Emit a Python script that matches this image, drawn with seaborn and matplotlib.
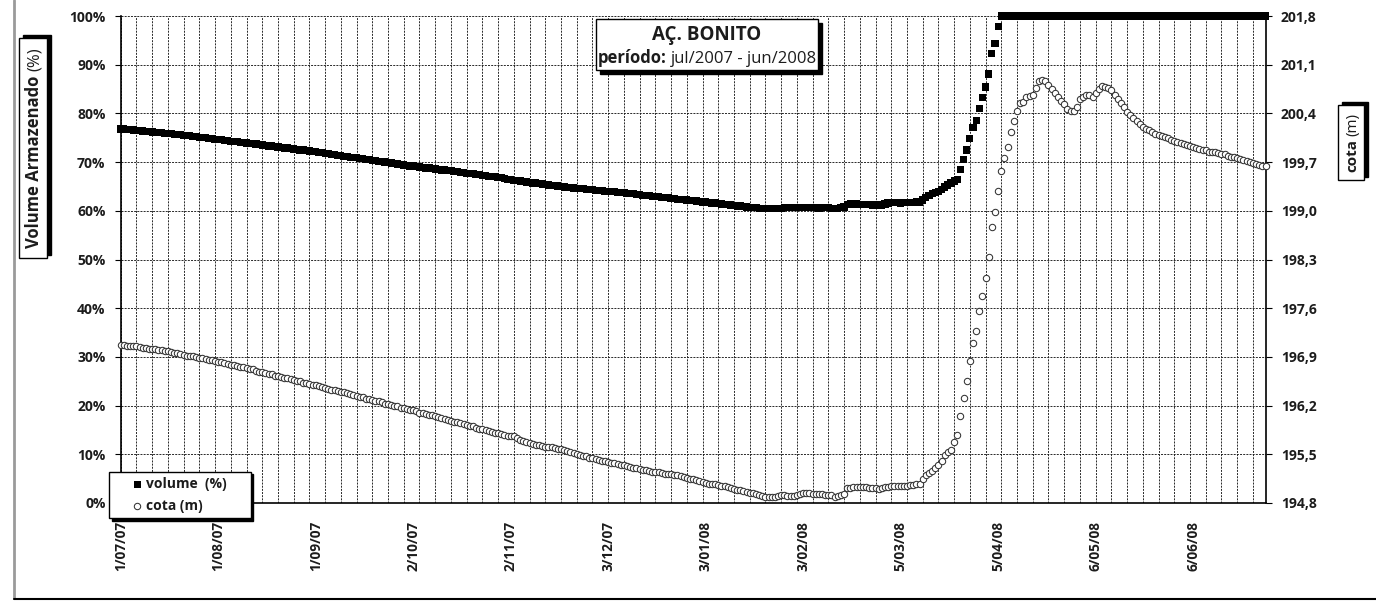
import numpy as np
import pandas as pd
import matplotlib.pyplot as plt
import seaborn as sns
from matplotlib.lines import Line2D
from matplotlib.patches import Rectangle
from matplotlib.transforms import IdentityTransform
from matplotlib.ticker import MultipleLocator, FuncFormatter, FixedLocator

# dados diários (dia 0 = 1/07/07)
inicio = '2007-07-01'
rotulos_x = ['1/07/07', '1/08/07', '1/09/07', '2/10/07', '2/11/07', '3/12/07',
             '3/01/08', '3/02/08', '5/03/08', '5/04/08', '6/05/08', '6/06/08']
ticks_volume = [0, 10, 20, 30, 40, 50, 60, 70, 80, 90, 100]
ticks_cota = [194.8, 195.5, 196.2, 196.9, 197.6, 198.3, 199.0, 199.7, 200.4, 201.1, 201.8]

# volume armazenado (%)
volume = [
    76.8, 76.8, 76.7, 76.7, 76.6, 76.5, 76.5, 76.4, 76.3, 76.3, 76.2, 76.1, 76.1, 76.0, 75.9, 75.8,
    75.8, 75.7, 75.6, 75.6, 75.5, 75.4, 75.4, 75.3, 75.2, 75.1, 75.1, 75.0, 74.9, 74.8, 74.7,
    74.6, 74.6, 74.5, 74.4, 74.3, 74.2, 74.2, 74.1, 74.0, 73.9, 73.8, 73.8, 73.7, 73.6, 73.5,
    73.4, 73.3, 73.3, 73.2, 73.1, 73.0, 72.9, 72.9, 72.8, 72.7, 72.6, 72.5, 72.5, 72.4, 72.3,
    72.2, 72.1, 72.0, 71.9, 71.8, 71.7, 71.6, 71.5, 71.4, 71.3, 71.2, 71.1, 71.0, 71.0, 70.9,
    70.8, 70.7, 70.6, 70.5, 70.4, 70.3, 70.2, 70.1, 70.0, 69.9, 69.8, 69.7, 69.6, 69.5, 69.4,
    69.3, 69.2, 69.2, 69.1, 69.0, 68.9, 68.8, 68.8, 68.7, 68.6, 68.5, 68.4, 68.4, 68.3, 68.2,
    68.1, 68.0, 67.9, 67.8, 67.7, 67.7, 67.6, 67.5, 67.4, 67.3, 67.2, 67.1, 67.0, 67.0, 66.9,
    66.8, 66.7, 66.5, 66.4, 66.3, 66.2, 66.1, 66.0, 65.9, 65.8,
    65.7, 65.7, 65.6, 65.5, 65.4, 65.3, 65.2, 65.2, 65.1, 65.0, 64.9, 64.8, 64.8, 64.7, 64.6,
    64.5, 64.5, 64.4, 64.3, 64.3, 64.2, 64.1, 64.1, 64.0, 64.0, 63.9, 63.9, 63.8, 63.8, 63.7,
    63.6, 63.5, 63.5, 63.4, 63.3, 63.2, 63.2, 63.1, 63.0, 62.9, 62.9, 62.8, 62.7, 62.7, 62.6,
    62.5, 62.4, 62.4, 62.3, 62.2, 62.1, 62.1, 62.0, 61.9, 61.8, 61.8, 61.7, 61.6, 61.6, 61.5,
    61.4, 61.3, 61.3, 61.2, 61.1, 61.0, 61.0, 60.9, 60.8, 60.7, 60.7, 60.6, 60.5, 60.5, 60.4,
    60.4, 60.4, 60.5, 60.5, 60.5, 60.6, 60.6, 60.6, 60.7, 60.7, 60.7,
    60.7, 60.6, 60.6, 60.6, 60.6, 60.5, 60.6, 60.7, 60.6, 60.5, 60.5, 60.5, 60.6, 60.8,
    61.3, 61.4, 61.4, 61.4, 61.3, 61.3, 61.3, 61.3, 61.2, 61.2, 61.2, 61.1, 61.4, 61.6,
    61.7, 61.7, 61.7, 61.6, 61.7, 61.7, 61.7, 61.7, 61.8, 61.8,
    62.2, 62.7, 63.2, 63.5, 63.7, 64.0, 64.4, 64.9, 65.3, 65.7, 66.1, 66.5, 68.5, 70.6, 72.5,
    74.9, 77.1, 78.6, 81.0, 83.2, 85.4, 88.1, 92.3, 94.4, 97.9,
] + [100.0] * 85  # sangrando a partir de 6/04/08

# cota (m)
cota = [
    197.07, 197.07, 197.06, 197.06, 197.05, 197.05, 197.04, 197.03, 197.03, 197.02, 197.02, 197.01,
    197.00, 197.00, 196.99, 196.98,
    196.97, 196.96, 196.95, 196.94, 196.93, 196.92, 196.92, 196.91, 196.90, 196.89, 196.88, 196.87,
    196.86, 196.85, 196.84,
    196.83, 196.82, 196.81, 196.80, 196.79, 196.78, 196.77, 196.76, 196.75, 196.74, 196.73, 196.72,
    196.70, 196.69, 196.68,
    196.67, 196.66, 196.65, 196.63, 196.62, 196.61, 196.60, 196.59, 196.58, 196.57, 196.56, 196.55,
    196.53, 196.52, 196.51,
    196.50, 196.49, 196.48, 196.47, 196.45, 196.44, 196.43, 196.42, 196.41, 196.40, 196.39, 196.38,
    196.36, 196.35, 196.34,
    196.33, 196.32, 196.30, 196.29, 196.28, 196.27, 196.26, 196.25, 196.23, 196.22, 196.21, 196.20,
    196.19, 196.17, 196.16,
    196.15, 196.14, 196.13, 196.12, 196.10, 196.09, 196.08, 196.07, 196.06, 196.05, 196.03, 196.02,
    196.01, 196.00, 195.98,
    195.97, 195.96, 195.95, 195.93, 195.92, 195.91, 195.90, 195.88, 195.87, 195.86, 195.85, 195.84,
    195.82, 195.81, 195.80,
    195.79, 195.78, 195.77, 195.77, 195.76, 195.74, 195.71, 195.69, 195.67, 195.66,
    195.65, 195.64, 195.63, 195.62, 195.61, 195.61, 195.60, 195.59, 195.58, 195.57,
    195.56, 195.55, 195.53, 195.52, 195.51, 195.49, 195.48, 195.47, 195.45, 195.44,
    195.43, 195.42, 195.41, 195.40, 195.39, 195.38, 195.37, 195.36, 195.35, 195.34, 195.33, 195.32,
    195.31,
    195.30, 195.29, 195.28, 195.27, 195.26,
    195.25, 195.25, 195.24, 195.23, 195.22, 195.22, 195.21, 195.20, 195.20, 195.19,
    195.17, 195.16, 195.15, 195.14, 195.13, 195.11, 195.10,
    195.09, 195.08, 195.08, 195.07, 195.06, 195.05, 195.04, 195.03, 195.02, 195.00,
    194.99, 194.98, 194.97, 194.96, 194.95, 194.94, 194.93, 194.91,
    194.90, 194.89, 194.89, 194.88, 194.88, 194.90, 194.91,
    194.91, 194.90, 194.90, 194.90, 194.92, 194.93, 194.94, 194.94,
    194.94, 194.93, 194.93, 194.93, 194.93, 194.92, 194.92, 194.91, 194.89, 194.90, 194.92, 194.93,
    195.01, 195.02, 195.03, 195.03, 195.03, 195.03, 195.03, 195.02, 195.02, 195.01, 195.00, 195.02,
    195.03,
    195.03, 195.04, 195.04, 195.04, 195.05, 195.05, 195.05, 195.06, 195.06, 195.07, 195.07,
    195.14, 195.20, 195.23, 195.26, 195.30, 195.35, 195.40, 195.49, 195.53, 195.56, 195.68, 195.78,
    196.05, 196.31, 196.55, 196.84, 197.10, 197.27, 197.56, 197.78, 198.04, 198.34,
    198.76, 198.98, 199.29, 199.57, 199.76, 199.91, 200.13, 200.29, 200.44, 200.55,
    200.56, 200.63, 200.65, 200.67, 200.76, 200.87, 200.88, 200.86, 200.81, 200.75,
    200.69, 200.64, 200.58, 200.53, 200.47, 200.44, 200.44, 200.49, 200.60, 200.64,
    200.67, 200.67, 200.63, 200.70, 200.75, 200.79, 200.78, 200.76, 200.73, 200.67,
    200.61, 200.55, 200.49, 200.42, 200.37, 200.33, 200.29, 200.25, 200.21, 200.18,
    200.16, 200.13, 200.11, 200.09, 200.08, 200.06, 200.04, 200.02, 200.01, 199.99,
    199.97, 199.96, 199.95, 199.93, 199.92, 199.90, 199.89, 199.88, 199.87, 199.85,
    199.85, 199.84, 199.83, 199.82, 199.81, 199.79, 199.78, 199.77, 199.76, 199.74,
    199.73, 199.71, 199.70, 199.69, 199.67, 199.66, 199.65, 199.64,
]

sns.set_style('white')
plt.rcParams['font.family'] = ['Open Sans', 'DejaVu Sans']
plt.rcParams['font.weight'] = 'bold'

W, H = 1376, 601
cor_txt = '#1c1c1c'
fig = plt.figure(figsize=(W / 100, H / 100), dpi=100)
ax = fig.add_axes([120.7 / W, 1 - 503 / H, (1265.5 - 120.7) / W, (503 - 16) / H])
ax2 = ax.twinx()

dia_vol = np.arange(len(volume))
dia_cota = np.arange(len(cota))

sns.scatterplot(x=dia_vol, y=volume, ax=ax, marker='s', s=27, color='black',
                edgecolor='none', linewidth=0, clip_on=False, label='volume  (%)',
                legend=False, zorder=3)
sns.scatterplot(x=dia_cota, y=cota, ax=ax2, marker='o', s=21, color='white',
                edgecolor='#333333', linewidth=0.75, clip_on=False, label='cota (m)',
                legend=False, zorder=3)

# eixos
ax.set_xlim(0, max(len(volume), len(cota)) - 1)
ax.set_ylim(ticks_volume[0], ticks_volume[-1])
ax.yaxis.set_major_locator(FixedLocator(ticks_volume))
ax.yaxis.set_major_formatter(FuncFormatter(lambda v, p: f'{v:.0f}%'))
ax2.set_ylim(ticks_cota[0], ticks_cota[-1])
ax2.yaxis.set_major_locator(FixedLocator(ticks_cota))
ax2.yaxis.set_major_formatter(FuncFormatter(lambda v, p: f'{v:.1f}'.replace('.', ',')))

ax.xaxis.set_major_locator(MultipleLocator(10))
ax.xaxis.set_minor_locator(MultipleLocator(5))
ax.tick_params(axis='x', which='major', direction='out', length=4, width=0.8,
               color='black', labelbottom=False)
ax.tick_params(axis='x', which='minor', length=0)
ax.tick_params(axis='y', direction='out', length=4, width=0.8, color='black', pad=7,
               labelsize=10, labelcolor=cor_txt)
ax2.tick_params(axis='y', direction='out', length=4, width=0.8, color='black', pad=7,
                labelsize=10, labelcolor=cor_txt)

grade = dict(color='#1a1a1a', linestyle=(0, (2.2, 1.3)), linewidth=0.65)
ax.grid(True, axis='x', which='both', **grade)
ax.grid(True, axis='y', which='major', **grade)
ax.set_axisbelow(True)
ax2.grid(False)

for lado in ['top', 'right']:
    ax.spines[lado].set_visible(False)
for lado in ['top', 'left', 'bottom']:
    ax2.spines[lado].set_visible(False)
for sp in [ax.spines['left'], ax.spines['bottom'], ax2.spines['right']]:
    sp.set_color('black')
    sp.set_linewidth(1.2)

# rótulos de data (a cada 31 dias)
pos_rot = (pd.to_datetime(rotulos_x, format='%d/%m/%y') - pd.Timestamp(inicio)).days
sec = ax.secondary_xaxis('bottom')
sec.set_xticks(list(pos_rot), labels=rotulos_x)
sec.tick_params(length=0, pad=13, labelsize=9.8, rotation=90, labelcolor=cor_txt)
sec.spines['bottom'].set_visible(False)

# legenda
h1, l1 = ax.get_legend_handles_labels()
h2, l2 = ax2.get_legend_handles_labels()
leg = fig.legend(h1 + h2, l1 + l2, loc='upper left',
                 bbox_to_anchor=(109.3 / W, 1 - 518.3 / H, 141.4 / W, 46.6 / H),
                 mode='expand', borderaxespad=0, borderpad=0.38, handlelength=3.3,
                 handletextpad=-1.06, labelspacing=0.58, scatterpoints=1,
                 fancybox=False, edgecolor='black', framealpha=1,
                 shadow={'color': 'black', 'alpha': 1},
                 prop={'size': 10, 'weight': 'bold'})
leg.get_frame().set_linewidth(1.0)
leg.set_zorder(8)
for t in leg.get_texts():
    t.set_color(cor_txt)


def caixa(x0, y0, x1, y1, dx, dy):
    # caixa com sombra, coordenadas em pixels a partir do topo
    sombra = Rectangle((x0 + dx, H - y1 - dy), x1 - x0, y1 - y0, transform=IdentityTransform(),
                       facecolor='black', edgecolor='black', lw=1, zorder=5)
    frente = Rectangle((x0, H - y1), x1 - x0, y1 - y0, transform=IdentityTransform(),
                       facecolor='white', edgecolor='black', lw=1, zorder=6)
    fig.add_artist(sombra)
    fig.add_artist(frente)


def texto_misto(cx, cy, partes, tam, rot=0):
    r = fig.canvas.get_renderer()
    em = tam * 100 / 72
    objs = [fig.text(0, 0, s, fontsize=tam, fontweight=w, rotation=rot, rotation_mode='anchor',
                     ha='left', va='baseline', transform=IdentityTransform(), zorder=7,
                     color=cor_txt) for s, w in partes]
    comp = []
    for t in objs:
        bb = t.get_window_extent(r)
        comp.append(bb.width if rot == 0 else bb.height)
    esp = 0.26 * em
    pos = -(sum(comp) + esp * (len(objs) - 1)) / 2
    for t, c in zip(objs, comp):
        if rot == 0:
            t.set_position((cx + pos, H - cy - 0.36 * em))
        else:
            t.set_position((cx + 0.36 * em, H - cy + pos))
        pos += c + esp


# título
caixa(595.7, 19.3, 818.3, 70, 4, 4)
texto_misto(707, 33.5, [('AÇ. BONITO', 'bold')], 13.5)
texto_misto(707, 57, [('período:', 'bold'), ('jul/2007 - jun/2008', 'normal')], 12)

# títulos dos eixos
caixa(19, 38.3, 46.7, 258, 4, -3.5)
texto_misto(33, 148, [('Volume Armazenado', 'bold'), ('(%)', 'normal')], 12, rot=90)
caixa(1337.7, 105, 1364, 180, 4, -3.5)
texto_misto(1351, 142.5, [('cota', 'bold'), ('(m)', 'normal')], 11, rot=90)

# moldura externa
fig.add_artist(Line2D([14 / W, 14 / W], [3 / H, 1], color='#9a9a9a', lw=2, transform=fig.transFigure))
fig.add_artist(Line2D([14 / W, 1], [2.5 / H, 2.5 / H], color='black', lw=1.5, transform=fig.transFigure))

fig.savefig('out.png', dpi=100)
